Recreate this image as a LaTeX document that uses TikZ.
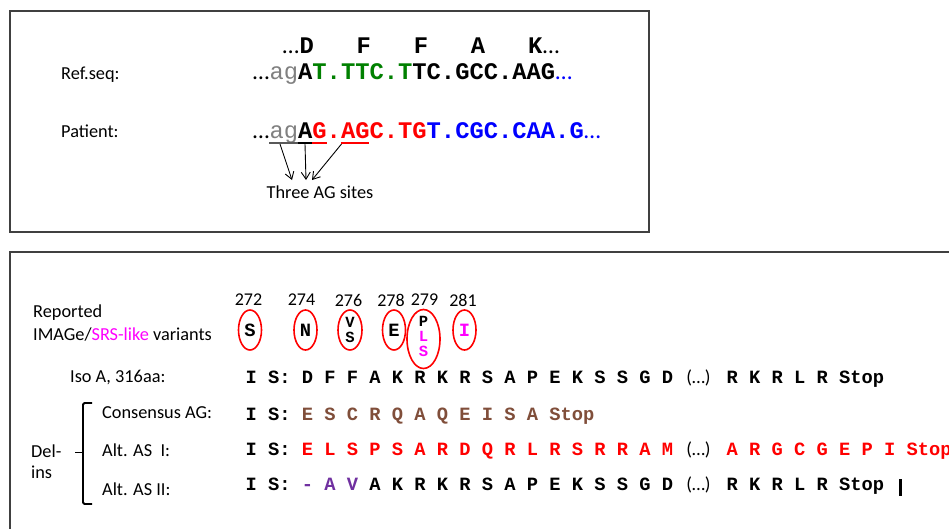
\documentclass[tikz,border=0pt]{standalone}
\usepackage{fontspec}
\setmainfont{Carlito}
\newfontfamily\monof{Liberation Mono}
\usetikzlibrary{shapes.geometric,arrows.meta}
\definecolor{seqgreen}{RGB}{0,128,0}
\definecolor{seqblue}{RGB}{0,0,255}
\definecolor{seqred}{RGB}{255,0,0}
\definecolor{aggray}{RGB}{128,128,128}
\definecolor{ulgray}{RGB}{89,89,89}
\definecolor{brownaa}{RGB}{128,78,58}
\definecolor{purp}{RGB}{112,48,160}
\definecolor{mag}{RGB}{255,0,255}
\definecolor{framecol}{RGB}{64,64,64}
\tikzset{
  lbl/.style={inner sep=0pt, anchor=base west, font=\fontsize{18.3}{22}\selectfont},
  seqbig/.style={inner sep=0pt, anchor=base west, font=\monof\bfseries\fontsize{23.8}{26}\selectfont},
  seqsm/.style={inner sep=0pt, anchor=base west, font=\monof\bfseries\fontsize{18.75}{20}\selectfont},
  dotsbig/.style={inner sep=0pt, font=\fontsize{23.8}{26}\selectfont},
  paren/.style={inner sep=0pt, anchor=base, font=\fontsize{18.75}{20}\selectfont},
  ring/.style={draw=seqred, line width=1.6pt, ellipse, inner sep=0pt},
  aa/.style={inner sep=0pt, text height=12pt, text depth=0pt, font=\monof\bfseries\fontsize{18.75}{20}\selectfont},
  aastack/.style={inner sep=0pt, text height=10pt, text depth=0pt, font=\monof\bfseries\fontsize{15.5}{16}\selectfont},
  num/.style={inner sep=0pt, font=\fontsize{18}{22}\selectfont},
  panel/.style={draw=framecol, line width=1.5pt},
  uline/.style={line width=2.5pt},
  agarrow/.style={-{Straight Barb[length=7pt,width=9pt]}, line width=0.9pt},
}
\begin{document}
\begin{tikzpicture}[x=1pt,y=-1pt]
\useasboundingbox (0,0) rectangle (949,528);
\fill[white] (0,0) rectangle (949,528);
% panels
\draw[panel] (10,11) rectangle (649,232);
\draw[panel] (950,252) -- (10,252) -- (10,529);

% ---------- top panel ----------
\node[seqbig] (aarow) at (299.35,53) {D~~~F~~~F~~~A~~~K};
\node[dotsbig, anchor=base east] (aadl) at (aarow.base west) {…};
\node[dotsbig, anchor=base west] (aadr) at (aarow.base east) {…};

\node[lbl] (reflbl) at (61,79) {Ref.seq:};
\node[seqbig] (refseq) at (269.4,79) {\textcolor{aggray}{\mdseries ag}A\textcolor{seqgreen}{T.TTC.T}TC.GCC.AAG};
\node[dotsbig, anchor=base east] (refdl) at (refseq.base west) {…};
\node[dotsbig, anchor=base west, text=seqblue] (refdr) at (refseq.base east) {…};

\node[lbl] (patlbl) at (61,137) {Patient:};
\node[seqbig] (patseq) at (269.4,138) {\textcolor{aggray}{\mdseries ag}A\textcolor{seqred}{G.AGC.TG}\textcolor{seqblue}{T.CGC.CAA.G}};
\node[dotsbig, anchor=base east] (patdl) at (patseq.base west) {…};
\node[dotsbig, anchor=base west, text=seqblue] (patdr) at (patseq.base east) {…};

% underlines of the AG sites
\draw[uline, ulgray] (269.4,143) -- (297.96,143);
\draw[uline, black] (297.96,143) -- (312.24,143);
\draw[uline, seqred] (312.24,143) -- (326.52,143);
\draw[uline, seqred] (340.8,143) -- (369.36,143);

\node[lbl, anchor=base] (three) at (320,198) {Three AG sites};
\coordinate (u1) at (280,144);
\coordinate (u2) at (305,144);
\coordinate (u3) at (341.5,144);
\coordinate (t1) at (292,180);
\coordinate (t2) at (306,180);
\coordinate (t3) at (312,180);
\draw[agarrow] (u1) -- (t1);
\draw[agarrow] (u2) -- (t2);
\draw[agarrow] (u3) -- (t3);

% ---------- bottom panel ----------
\node[lbl] (rep1) at (33,317) {Reported};
\node[lbl] (rep2) at (33,340) {IMAGe/\textcolor{mag}{SRS-like} variants};

\node[num] (n272) at (248.5,300) {272};
\node[num] (n274) at (301.5,300) {274};
\node[num] (n276) at (348.5,300) {276};
\node[num] (n278) at (391,300) {278};
\node[num] (n279) at (424.5,300) {279};
\node[num] (n281) at (463,300) {281};

\node[ring, minimum width=23pt, minimum height=40pt] (r272) at (250,330) {};
\node[aa] (a272) at (250,330) {S};
\node[ring, minimum width=23pt, minimum height=40pt] (r274) at (305.5,330) {};
\node[aa] (a274) at (305.5,330) {N};
\node[ring, minimum width=24pt, minimum height=40pt] (r276) at (350,330) {};
\node[aastack] (a276v) at (350,322) {V};
\node[aastack] (a276s) at (350,337) {S};
\node[ring, minimum width=23pt, minimum height=40pt] (r278) at (394,330) {};
\node[aa] (a278) at (394,330) {E};
\node[ring, minimum width=33pt, minimum height=59pt] (r279) at (423.5,339) {};
\node[aastack] (a279p) at (423.5,321) {P};
\node[aastack, text=mag] (a279l) at (423.5,336) {L};
\node[aastack, text=mag] (a279s) at (423.5,351) {S};
\node[ring, minimum width=23pt, minimum height=40pt] (r281) at (464.5,330) {};
\node[aa, text=mag] (a281) at (464.5,330) {I};

% row labels
\node[lbl] (isolbl) at (70,382) {Iso A, 316aa:};
\node[lbl] (conlbl) at (102,418) {Consensus AG:};
\node[lbl] (as1lbl) at (102,456) {Alt. AS\ \ I:};
\node[lbl] (as2lbl) at (102,495) {Alt. AS II:};
\node[lbl] (del) at (31,457) {Del-};
\node[lbl] (ins) at (31,478) {ins};
\draw[line width=1.8pt, rounded corners=1.5pt] (92,403) -- (83,403) -- (83,504) -- (92,504);
\draw[line width=1.8pt] (83,452.5) -- (75,452.5);

% sequences
\node[seqsm] (iso1) at (245.4,383) {I~S:~D~F~F~A~K~R~K~R~S~A~P~E~K~S~S~G~D};
\node[paren] (isop) at (698.5,383) {(…)};
\node[seqsm] (iso2) at (726.4,383) {R~K~R~L~R~Stop};

\node[seqsm] (con1) at (245.4,420) {I~S:~\textcolor{brownaa}{E~S~C~R~Q~A~Q~E~I~S~A~Stop}};

\node[seqsm] (as1a) at (245.4,455.5) {I~S:~\textcolor{seqred}{E~L~S~P~S~A~R~D~Q~R~L~R~S~R~R~A~M}};
\node[paren] (as1p) at (698.5,455.5) {(…)};
\node[seqsm, text=seqred] (as1b) at (726.4,455.5) {A~R~G~C~G~E~P~I~Stop};

\node[seqsm] (as2a) at (245.4,490.5) {I~S:~\textcolor{purp}{-~A~V}~A~K~R~K~R~S~A~P~E~K~S~S~G~D};
\node[paren] (as2p) at (698.5,490.5) {(…)};
\node[seqsm] (as2b) at (726.4,490.5) {R~K~R~L~R~Stop};
\draw[line width=3pt] (900,479) -- (900,496);
\end{tikzpicture}
\end{document}
